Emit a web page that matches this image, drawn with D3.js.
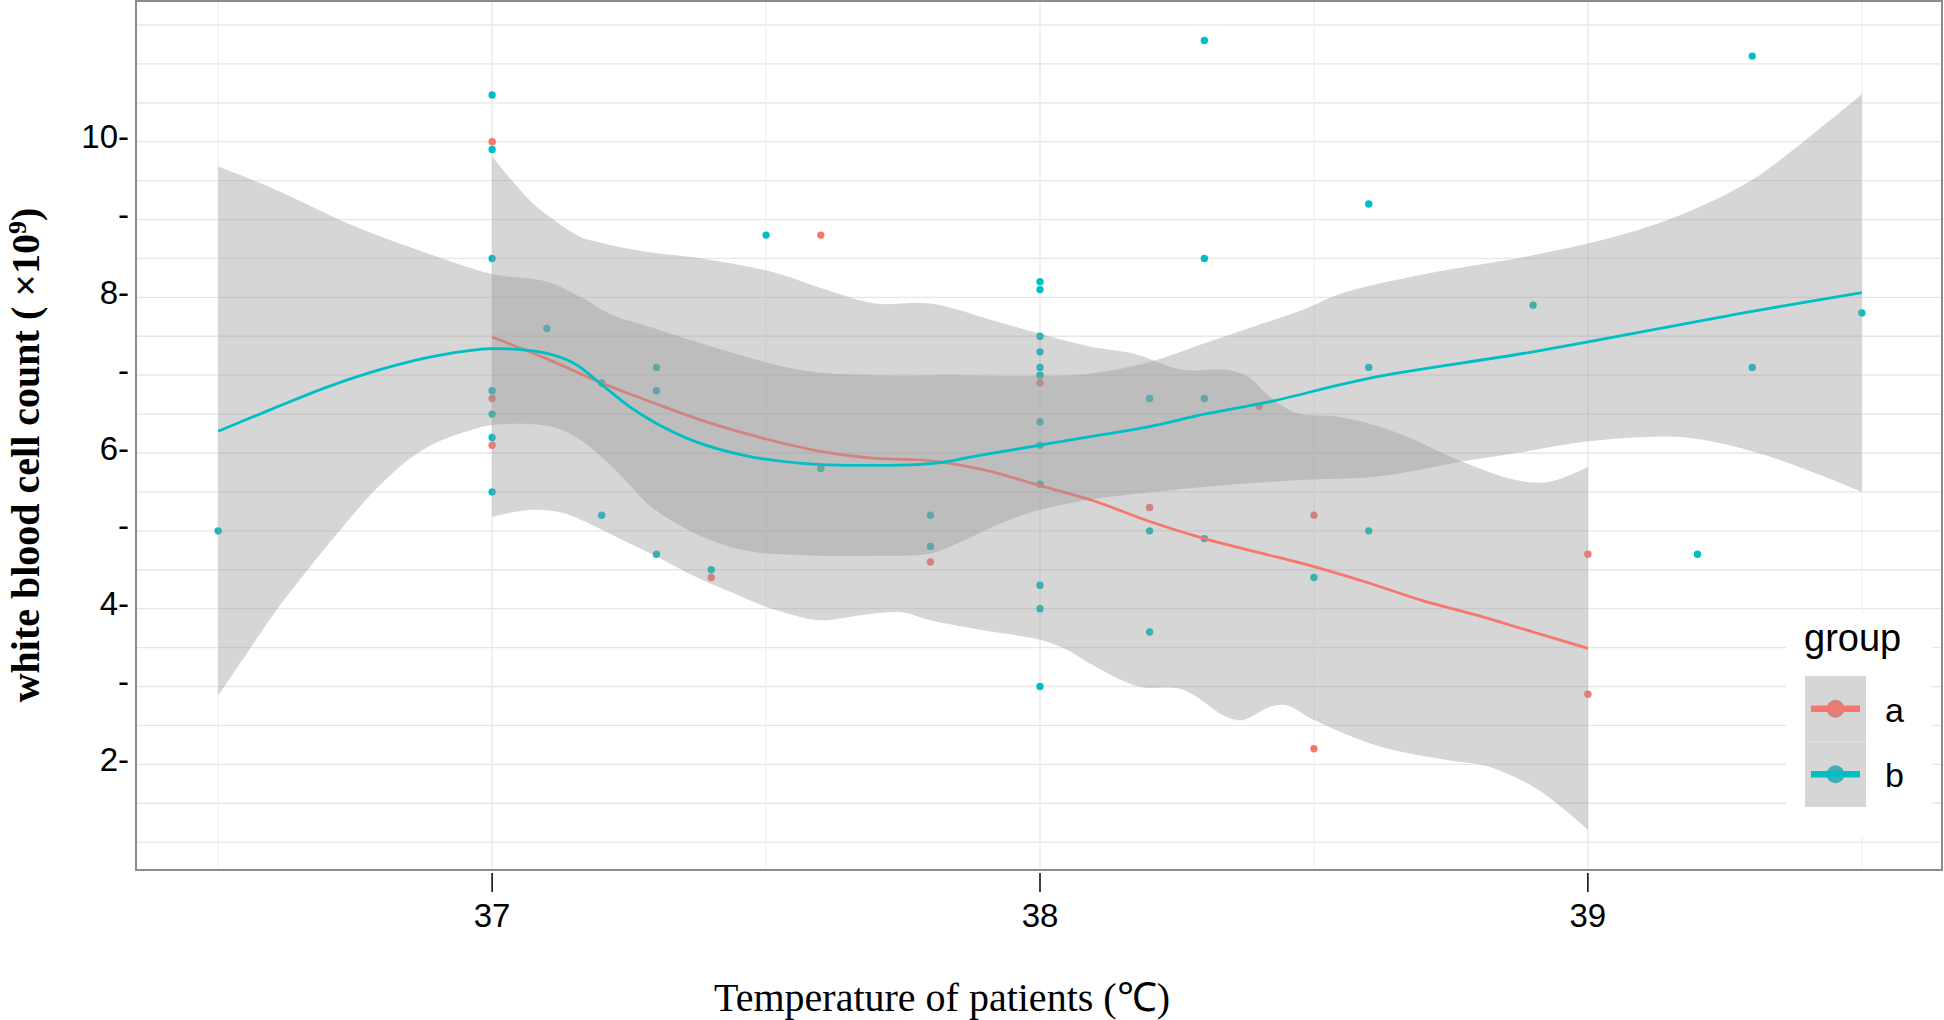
<!DOCTYPE html>
<html><head><meta charset="utf-8">
<script src="https://cdn.jsdelivr.net/npm/d3@7"></script>
<style>html,body{margin:0;padding:0;background:#fff;overflow:hidden}</style>
</head><body>
<svg id="chart" width="1944" height="1020"></svg>
<script>
// ---------- data ----------
const xTicks = [37, 38, 39];
const xTickLabels = ["37", "38", "39"];
const yTicks = [2, 3, 4, 5, 6, 7, 8, 9, 10];
const yTickLabels = ["2", "", "4", "", "6", "", "8", "", "10"];
const groups = ["a", "b"];
const groupColors = ["#F8766D", "#00BFC4"];

const groupA_temp = [37, 37, 37, 37.4, 37.6, 37.8, 38, 38.2, 38.4, 38.5, 38.5, 39, 39];
const groupA_wbc  = [10.0, 6.7, 6.1, 4.4, 8.8, 4.6, 6.9, 5.3, 6.6, 5.2, 2.2, 4.7, 2.9];

const groupB_temp = [36.5, 37, 37, 37, 37, 37, 37, 37, 37.1, 37.2, 37.2, 37.3, 37.3, 37.3, 37.4, 37.5, 37.6, 37.8, 37.8,
  38, 38, 38, 38, 38, 38, 38, 38, 38, 38, 38, 38, 38.2, 38.2, 38.2, 38.3, 38.3, 38.3, 38.3, 38.5, 38.6, 38.6, 38.6,
  38.9, 39.2, 39.3, 39.3, 39.5];
const groupB_wbc  = [5.0, 10.6, 9.9, 8.5, 6.8, 6.5, 6.2, 5.5, 7.6, 6.9, 5.2, 7.1, 6.8, 4.7, 4.5, 8.8, 5.8, 5.2, 4.8,
  8.2, 8.1, 7.5, 7.3, 7.1, 7.0, 6.4, 6.1, 5.6, 4.3, 4.0, 3.0, 6.7, 5.0, 3.7, 11.3, 8.5, 6.7, 4.9, 4.4, 9.2, 7.1, 5.0,
  7.9, 4.7, 11.1, 7.1, 7.8];

// smoothed fit
const fitA_x = [37.0, 37.1, 37.2, 37.3, 37.4, 37.5, 37.6, 37.7, 37.8, 37.9, 38.0, 38.1, 38.2, 38.3, 38.4, 38.5, 38.6, 38.7, 38.8, 38.9, 39.0];
const fitA_y = [7.49, 7.21, 6.90, 6.63, 6.38, 6.18, 6.02, 5.93, 5.90, 5.78, 5.58, 5.38, 5.12, 4.90, 4.72, 4.54, 4.33, 4.10, 3.91, 3.70, 3.49];
const upperA_x = [37.0, 37.04, 37.08, 37.12, 37.16, 37.2, 37.27, 37.4, 37.52, 37.6, 37.7, 37.8, 37.93, 38.09, 38.17, 38.26, 38.34, 38.38, 38.42, 38.47, 38.54, 38.6, 38.67, 38.77, 38.87, 38.93, 39.0];
const upperA_y = [9.81, 9.47, 9.17, 8.96, 8.78, 8.70, 8.60, 8.48, 8.31, 8.12, 7.92, 7.92, 7.67, 7.37, 7.28, 7.07, 7.07, 6.98, 6.72, 6.51, 6.47, 6.38, 6.21, 5.89, 5.65, 5.63, 5.82];
const lowerA_x = [37.0, 37.07, 37.13, 37.19, 37.25, 37.3, 37.36, 37.44, 37.51, 37.6, 37.64, 37.7, 37.75, 37.8, 37.89, 38.0, 38.05, 38.09, 38.18, 38.26, 38.34, 38.37, 38.42, 38.45, 38.5, 38.62, 38.74, 38.82, 38.91, 39.0];
const lowerA_y = [5.18, 5.27, 5.23, 5.05, 4.84, 4.67, 4.45, 4.20, 4.00, 3.85, 3.88, 3.94, 3.95, 3.85, 3.73, 3.60, 3.47, 3.30, 3.00, 2.96, 2.61, 2.57, 2.74, 2.76, 2.57, 2.23, 2.06, 1.97, 1.67, 1.16];

const fitB_x = [36.5, 36.6, 36.7, 36.8, 36.9, 37.0, 37.1, 37.15, 37.2, 37.25, 37.3, 37.37, 37.46, 37.56, 37.69, 37.81, 37.89, 38.0, 38.1, 38.2, 38.3, 38.42, 38.6, 38.9, 39.3, 39.5];
const fitB_y = [6.28, 6.57, 6.85, 7.08, 7.25, 7.34, 7.28, 7.15, 6.88, 6.60, 6.38, 6.15, 5.97, 5.87, 5.84, 5.87, 5.97, 6.10, 6.22, 6.34, 6.50, 6.66, 6.96, 7.30, 7.82, 8.06];
const upperB_x = [36.5, 36.6, 36.75, 36.88, 37.0, 37.1, 37.16, 37.22, 37.28, 37.4, 37.56, 37.69, 37.85, 38.0, 38.09, 38.2, 38.3, 38.38, 38.48, 38.55, 38.71, 38.9, 39.07, 39.19, 39.3, 39.39, 39.5];
const upperB_y = [9.68, 9.40, 8.91, 8.57, 8.30, 8.20, 8.01, 7.77, 7.64, 7.37, 7.07, 7.00, 7.00, 6.99, 7.02, 7.17, 7.41, 7.60, 7.84, 8.05, 8.31, 8.54, 8.82, 9.12, 9.51, 9.98, 10.61];
const lowerB_x = [36.5, 36.55, 36.6, 36.65, 36.7, 36.75, 36.8, 36.85, 36.9, 36.95, 37.0, 37.1, 37.15, 37.2, 37.25, 37.29, 37.37, 37.46, 37.56, 37.69, 37.8, 37.85, 37.93, 38.0, 38.09, 38.18, 38.34, 38.47, 38.62, 38.77, 38.87, 39.0, 39.12, 39.19, 39.27, 39.35, 39.43, 39.5];
const lowerB_y = [2.88, 3.40, 3.92, 4.38, 4.82, 5.24, 5.62, 5.93, 6.14, 6.27, 6.36, 6.35, 6.22, 5.95, 5.60, 5.31, 4.97, 4.75, 4.69, 4.68, 4.71, 4.84, 5.10, 5.27, 5.40, 5.48, 5.59, 5.65, 5.70, 5.89, 6.00, 6.15, 6.21, 6.19, 6.08, 5.91, 5.70, 5.50];

// ---------- drawing ----------
const svg = d3.select("#chart");
const P = {left: 136, right: 1942, top: 1, bottom: 870};
const x = d3.scaleLinear().domain([36.35, 39.65]).range([136, 1944]);
const y = d3.scaleLinear().domain([0.642, 11.808]).range([870, 1]);
const sansFont = "'Liberation Sans', Arial, Helvetica, sans-serif";
const serifFont = "'Liberation Serif', 'Times New Roman', serif";
const ribbonFill = "rgba(153,153,153,0.4)";

svg.append("rect").attr("width", 1944).attr("height", 1020).attr("fill", "#fff");
svg.append("clipPath").attr("id", "pclip").append("rect")
  .attr("x", P.left).attr("y", P.top).attr("width", P.right - P.left).attr("height", P.bottom - P.top);
const plot = svg.append("g").attr("clip-path", "url(#pclip)");

// grid
const hGrid = d3.range(1, 11.75, 0.5);
plot.append("g").selectAll("line").data(hGrid).join("line")
  .attr("x1", P.left).attr("x2", P.right)
  .attr("y1", d => y(d)).attr("y2", d => y(d))
  .attr("stroke", "#e6e6e6").attr("stroke-width", 1.3);
const vGrid = d3.range(36.5, 39.75, 0.5);
plot.append("g").selectAll("line").data(vGrid).join("line")
  .attr("y1", P.top).attr("y2", P.bottom)
  .attr("x1", d => x(d)).attr("x2", d => x(d))
  .attr("stroke", d => Number.isInteger(d) ? "#e8e8e8" : "#f1f1f1").attr("stroke-width", 1.3);

// points
const ptsA = groupA_temp.map((t, i) => [t, groupA_wbc[i]]);
const ptsB = groupB_temp.map((t, i) => [t, groupB_wbc[i]]);
plot.append("g").selectAll("circle").data(ptsA).join("circle")
  .attr("cx", d => x(d[0])).attr("cy", d => y(d[1])).attr("r", 3.7).attr("fill", groupColors[0]);
plot.append("g").selectAll("circle").data(ptsB).join("circle")
  .attr("cx", d => x(d[0])).attr("cy", d => y(d[1])).attr("r", 3.7).attr("fill", groupColors[1]);

// smooths
const curve = d3.curveCatmullRom.alpha(0.5);
const lineGen = d3.line().x(d => x(d[0])).y(d => y(d[1])).curve(curve);
function zip(a, b) { return a.map((v, i) => [v, b[i]]); }
function ribbon(ux, uy, lx, ly) {
  const up = zip(ux, uy);
  const lo = zip(lx, ly).reverse();
  return lineGen(up) + lineGen(lo).replace(/^M/, "L") + "Z";
}
const smooths = [
  {fx: fitA_x, fy: fitA_y, ux: upperA_x, uy: upperA_y, lx: lowerA_x, ly: lowerA_y, c: groupColors[0]},
  {fx: fitB_x, fy: fitB_y, ux: upperB_x, uy: upperB_y, lx: lowerB_x, ly: lowerB_y, c: groupColors[1]}
];
smooths.forEach(s => {
  plot.append("path").attr("d", ribbon(s.ux, s.uy, s.lx, s.ly)).attr("fill", ribbonFill);
  plot.append("path").attr("d", lineGen(zip(s.fx, s.fy))).attr("fill", "none")
    .attr("stroke", s.c).attr("stroke-width", 2.8);
});

// legend
const lg = svg.append("g");
lg.append("rect").attr("x", 1786).attr("y", 613).attr("width", 146).attr("height", 224).attr("fill", "#fff");
lg.append("text").attr("x", 1804).attr("y", 651).attr("font-family", sansFont).attr("font-size", 38)
  .attr("fill", "#000").text("group");
groups.forEach((g, i) => {
  const top = 676 + i * 65.5, cy = top + 32.75;
  lg.append("rect").attr("x", 1805).attr("y", top).attr("width", 61).attr("height", 65.5).attr("fill", "#fff");
  lg.append("circle").attr("cx", 1835.5).attr("cy", cy).attr("r", 9).attr("fill", groupColors[i]);
  lg.append("rect").attr("x", 1805).attr("y", top).attr("width", 61).attr("height", 65.5).attr("fill", ribbonFill);
  lg.append("line").attr("x1", 1811).attr("x2", 1860).attr("y1", cy).attr("y2", cy)
    .attr("stroke", groupColors[i]).attr("stroke-width", 6.5);
  lg.append("text").attr("x", 1885).attr("y", cy + 13).attr("font-family", sansFont).attr("font-size", 34)
    .attr("fill", "#000").text(g);
});

// panel border
svg.append("rect").attr("x", P.left).attr("y", P.top).attr("width", P.right - P.left).attr("height", P.bottom - P.top)
  .attr("fill", "none").attr("stroke", "#8c8c8c").attr("stroke-width", 2);

// y axis labels with dash ticks
svg.append("g").selectAll("text").data(yTicks).join("text")
  .attr("x", 129).attr("y", d => y(d) - 5).attr("dy", "0.35em")
  .attr("text-anchor", "end").attr("font-family", sansFont).attr("font-size", 33).attr("fill", "#000")
  .text((d, i) => yTickLabels[i] + "-");

// x axis ticks and labels
svg.append("g").selectAll("line").data(xTicks).join("line")
  .attr("x1", d => x(d)).attr("x2", d => x(d)).attr("y1", 873).attr("y2", 892)
  .attr("stroke", "#000").attr("stroke-width", 1.5);
svg.append("g").selectAll("text").data(xTicks).join("text")
  .attr("x", d => x(d)).attr("y", 927).attr("text-anchor", "middle")
  .attr("font-family", sansFont).attr("font-size", 33).attr("fill", "#000")
  .text((d, i) => xTickLabels[i]);

// axis titles
svg.append("text").attr("x", 942).attr("y", 1011).attr("text-anchor", "middle")
  .attr("font-family", serifFont).attr("font-size", 40).attr("fill", "#000")
  .text("Temperature of patients (℃)");
const yt = svg.append("text").attr("transform", "translate(39,455) rotate(-90)").attr("text-anchor", "middle")
  .attr("font-family", serifFont).attr("font-size", 40).attr("font-weight", "bold").attr("fill", "#000");
yt.append("tspan").text("white blood cell count ( \u00d710");
yt.append("tspan").attr("font-size", 26).attr("dy", -13).text("9");
yt.append("tspan").attr("dy", 13).text(")");
</script>
</body></html>
